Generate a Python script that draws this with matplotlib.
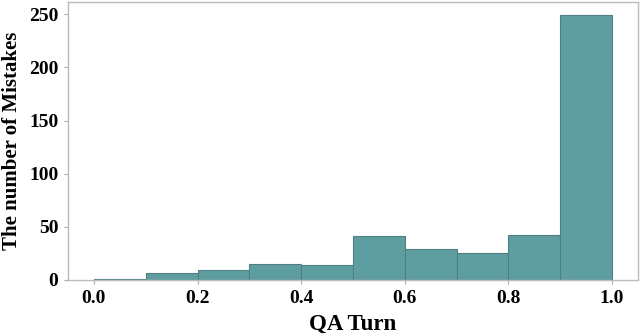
import numpy as np
import matplotlib
matplotlib.use("Agg")
import matplotlib.pyplot as plt

bin_edges = [0.0, 0.1, 0.2, 0.3, 0.4, 0.5, 0.6, 0.7, 0.8, 0.9, 1.0]
counts = [1, 7, 9, 15, 14, 41, 29, 25, 42, 249]

plt.rcParams['font.family'] = ['Liberation Serif', 'DejaVu Serif']
plt.rcParams['font.weight'] = 'bold'

fig = plt.figure(figsize=(6.4, 3.36), dpi=100)
ax = fig.add_axes([68/640, 1 - 280/336, 570/640, 278/336])

ax.hist(bin_edges[:-1], bins=bin_edges, weights=counts,
        color='#5f9ea0', edgecolor='#4f7f80', linewidth=0.8)

ax.set_xlabel('QA Turn', fontsize=16.5, fontweight='bold', labelpad=5)
ax.set_ylabel('The number of Mistakes', fontsize=15, fontweight='bold')
ax.yaxis.set_label_coords(-0.081, 0.5)
ax.set_yticks([0, 50, 100, 150, 200, 250])
ax.set_xticks([0.0, 0.2, 0.4, 0.6, 0.8, 1.0])
ax.tick_params(labelsize=14, length=3, color='#aaaaaa', width=0.8, pad=4)
for lbl in ax.get_xticklabels() + ax.get_yticklabels():
    lbl.set_fontweight('bold')
for s in ax.spines.values():
    s.set_color('#bbbbbb')
    s.set_linewidth(1.0)

fig.savefig('out.png', dpi=100)
